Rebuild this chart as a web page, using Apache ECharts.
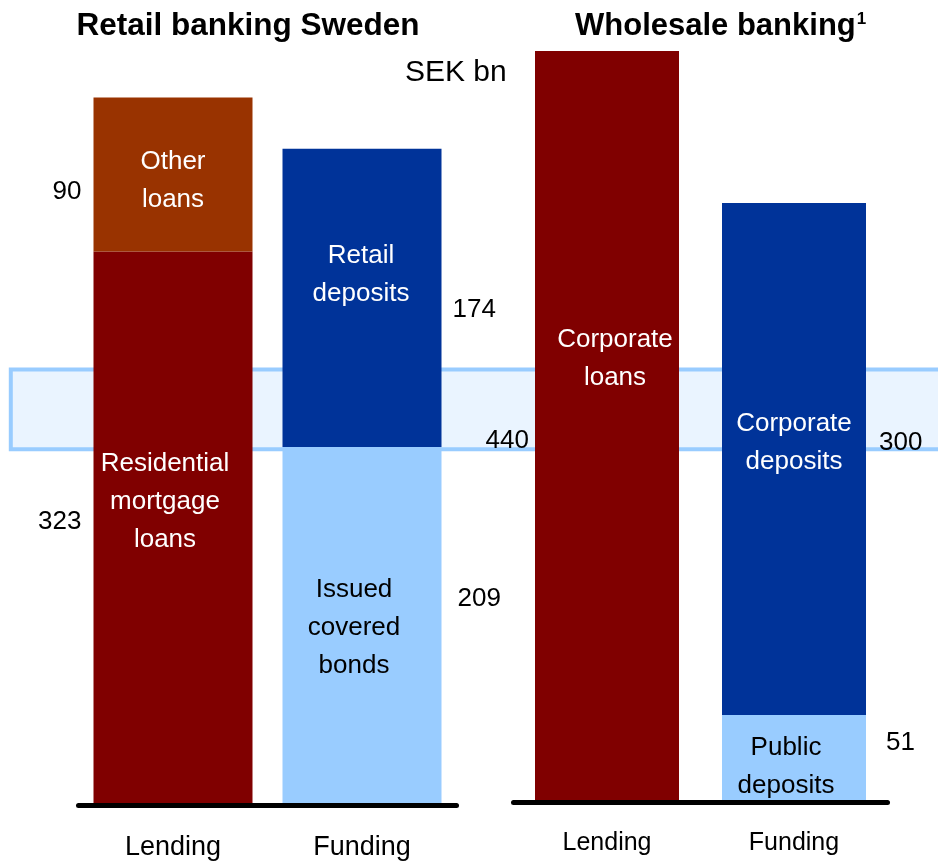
<!DOCTYPE html>
<html>
<head>
<meta charset="utf-8">
<script src="https://cdn.jsdelivr.net/npm/echarts@6/dist/echarts.min.js"></script>
<style>
  html, body { margin: 0; padding: 0; background: #fff; }
  #chart { width: 938px; height: 864px; }
</style>
</head>
<body>
<div id="chart"></div>
<script>
// Balance sheet structure, SEK bn
const categories = ['Lending', 'Funding'];

// Retail banking Sweden
const retailBase = [323, 209];   // residential mortgage loans, issued covered bonds
const retailTop = [90, 174];     // other loans, retail deposits
const retailBaseNames = ['Residential\nmortgage\nloans', 'Issued\ncovered\nbonds'];
const retailTopNames = ['Other\nloans', 'Retail\ndeposits'];

// Wholesale banking
const wholesaleBase = [440, 51]; // corporate loans, public deposits
const wholesaleTop = [null, 300]; // corporate deposits
const wholesaleBaseNames = ['Corporate\nloans', 'Public\ndeposits'];
const wholesaleTopNames = ['', 'Corporate\ndeposits'];

const FONT = '"Liberation Sans", Arial, sans-serif';
const DARK_RED = '#800000';
const RUST = '#993300';
const NAVY = '#003399';
const SKY = '#99CCFF';

// Segment series with the name written inside each block
function segmentSeries(grid, values, names, colors, textColors, offsets, barWidth) {
  return {
    type: 'bar',
    xAxisIndex: grid,
    yAxisIndex: grid,
    stack: 'seg' + grid,
    barWidth: barWidth,
    barGap: '-100%',
    silent: true,
    data: values.map((v, i) => v == null ? '-' : {
      value: v,
      itemStyle: { color: colors[i] },
      label: { formatter: names[i], color: textColors[i], offset: offsets[i] }
    }),
    label: {
      show: true,
      position: 'inside',
      fontFamily: FONT,
      fontSize: 26,
      lineHeight: 38
    }
  };
}

// Transparent twin stack carrying the values beside each block
function valueSeries(grid, values, distances, offsets, barWidth) {
  return {
    type: 'bar',
    xAxisIndex: grid,
    yAxisIndex: grid,
    stack: 'val' + grid,
    barWidth: barWidth,
    barGap: '-100%',
    silent: true,
    itemStyle: { color: 'rgba(0,0,0,0)' },
    data: values.map((v, i) => v == null ? '-' : {
      value: v,
      label: { position: i === 0 ? 'left' : 'right', distance: distances[i], offset: offsets[i] }
    }),
    label: {
      show: true,
      formatter: '{c}',
      color: '#000',
      fontFamily: FONT,
      fontSize: 26
    }
  };
}

function xAxisFor(grid, fontSize, margin) {
  return {
    type: 'category',
    gridIndex: grid,
    data: categories,
    offset: 3,
    z: 5,
    axisLine: { show: true, lineStyle: { color: '#000', width: 5, cap: 'round' } },
    axisTick: { show: false },
    axisLabel: { color: '#000', fontFamily: FONT, fontSize: fontSize, margin: margin }
  };
}

function yAxisFor(grid) {
  return { type: 'value', gridIndex: grid, min: 0, max: 450, show: false };
}

const option = {
  animation: false,
  backgroundColor: '#fff',
  grid: [
    { left: 78.5, width: 378, top: 34, bottom: 59 },
    { left: 513.5, width: 374, top: 34, bottom: 62 }
  ],
  xAxis: [xAxisFor(0, 27, 26), xAxisFor(1, 25, 26)],
  yAxis: [yAxisFor(0), yAxisFor(1)],
  graphic: [
    {
      type: 'rect',
      z: 0,
      silent: true,
      shape: { x: 10.8, y: 369.5, width: 940, height: 79.7 },
      style: { fill: '#EAF4FF', stroke: SKY, lineWidth: 4 }
    },
    {
      type: 'text',
      z: 10,
      x: 248, y: 26,
      style: {
        text: 'Retail banking Sweden',
        font: 'bold 31.5px ' + FONT,
        fill: '#000',
        align: 'center',
        verticalAlign: 'middle'
      }
    },
    {
      type: 'text',
      z: 10,
      x: 575, y: 26,
      style: {
        text: 'Wholesale banking{sup|1}',
        font: 'bold 31px ' + FONT,
        fill: '#000',
        align: 'left',
        verticalAlign: 'middle',
        rich: {
          sup: { font: 'bold 17px ' + FONT, fill: '#000', verticalAlign: 'top', padding: [0, 0, 14, 1] }
        }
      }
    },
    {
      type: 'text',
      z: 10,
      x: 405, y: 73,
      style: {
        text: 'SEK bn',
        font: '30px ' + FONT,
        fill: '#000',
        align: 'left',
        verticalAlign: 'middle'
      }
    }
  ],
  series: [
    segmentSeries(0, retailBase, retailBaseNames, [DARK_RED, SKY], ['#fff', '#000'], [[-8, -26], [-8, 2]], 159),
    segmentSeries(0, retailTop, retailTopNames, [RUST, NAVY], ['#fff', '#fff'], [[0, 6], [-1, -23]], 159),
    valueSeries(0, retailBase, [12, 16], [[0, -6], [0, -27]], 159),
    valueSeries(0, retailTop, [12, 11], [[0, 17], [0, 12]], 159),
    segmentSeries(1, wholesaleBase, wholesaleBaseNames, [DARK_RED, SKY], ['#fff', '#000'], [[8, -68], [-8, 8]], 144),
    segmentSeries(1, wholesaleTop, wholesaleTopNames, [DARK_RED, NAVY], ['#fff', '#fff'], [[0, 0], [0, -16]], 144),
    valueSeries(1, wholesaleBase, [6, 20], [[0, 14], [0, -16]], 144),
    valueSeries(1, wholesaleTop, [6, 13], [[0, 0], [0, -16]], 144)
  ]
};

const chart = echarts.init(document.getElementById('chart'), null, { renderer: 'canvas' });
chart.setOption(option);
</script>
</body>
</html>
